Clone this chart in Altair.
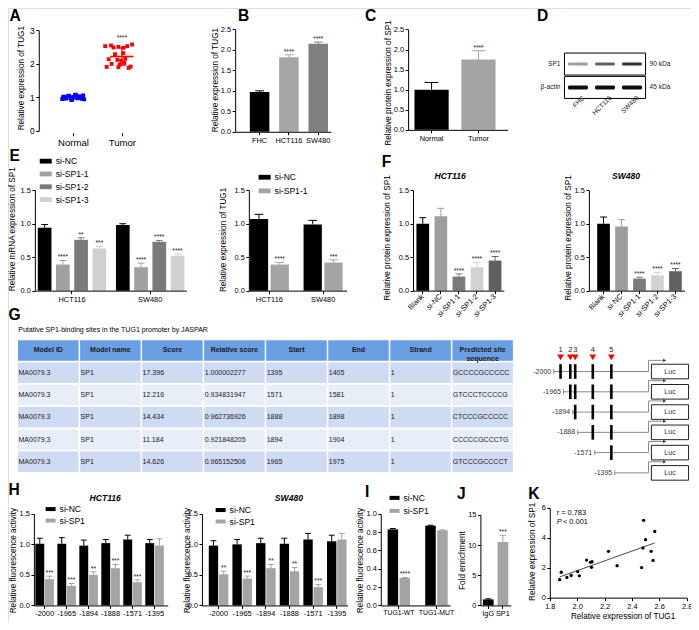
import altair as alt
import pandas as pd
import numpy as np

# ---------------- values ----------------
a_groups = ["Normal", "Tumor"]
a_normal = [0.95, 1.02, 0.98, 1.05, 0.93, 1.00, 1.07, 0.97, 1.03, 0.99,
            1.06, 0.94, 1.01, 0.96, 1.04, 0.92, 1.08, 0.98, 1.02, 0.95]
a_normal_jitter = [-0.22, -0.18, -0.13, -0.08, -0.04, 0.00, 0.04, 0.09, 0.13, 0.17,
                   0.21, 0.23, -0.20, -0.15, -0.10, -0.02, 0.06, 0.11, 0.15, 0.19]
a_tumor = [2.53, 2.49, 2.51, 2.48, 2.53, 2.58, 2.55, 2.29, 2.32, 2.14,
           2.12, 2.09, 2.15, 2.00, 1.98, 2.03, 1.91, 1.90, 1.88, 1.92]
a_tumor_jitter = [-0.34, -0.17, -0.07, 0.03, 0.11, 0.21, -0.22, -0.14, 0.03, -0.27,
                  -0.09, -0.01, 0.07, -0.21, -0.04, 0.05, -0.31, -0.07, 0.14, 0.18]
a_star = "****"

b_cells = ["FHC", "HCT116", "SW480"]
b_mean = [0.97, 1.82, 2.15]
b_err = [0.03, 0.06, 0.04]
b_stars = ["", "****", "****"]

c_groups = ["Normal", "Tumor"]
c_mean = [1.00, 1.75]
c_err = [0.18, 0.22]
c_stars = ["", "****"]

d_lanes = ["FHC", "HCT116", "SW480"]
d_blots = ["SP1", "β-actin"]
d_kda = ["90 kDa", "45 kDa"]
d_sp1_band = [0.38, 0.62, 0.80]
d_actin_band = [0.95, 0.95, 0.95]

e_cells = ["HCT116", "SW480"]
e1_series = ["si-NC", "si-SP1-1", "si-SP1-2", "si-SP1-3"]
e1_mean = [[0.94, 0.98], [0.39, 0.35], [0.76, 0.73], [0.63, 0.52]]
e1_err = [[0.05, 0.02], [0.06, 0.06], [0.03, 0.02], [0.03, 0.03]]
e1_stars = [["", ""], ["****", "****"], ["**", "****"], ["***", "****"]]
e2_series = ["si-NC", "si-SP1-1"]
e2_mean = [[1.07, 0.99], [0.39, 0.42]]
e2_err = [[0.07, 0.06], [0.03, 0.04]]
e2_stars = [["", ""], ["****", "***"]]

f_groups = ["Blank", "si-NC", "si-SP1-1", "si-SP1-2", "si-SP1-3"]
f_hct_mean = [1.00, 1.11, 0.21, 0.35, 0.45]
f_hct_err = [0.09, 0.12, 0.04, 0.07, 0.06]
f_sw_mean = [1.00, 0.96, 0.18, 0.23, 0.29]
f_sw_err = [0.10, 0.10, 0.02, 0.04, 0.04]
f_stars = ["", "", "****", "****", "****"]

g_caption = "Putative SP1-binding sites in the TUG1 promoter by JASPAR"
g_headers = ["Model ID", "Model name", "Score", "Relative score", "Start", "End",
             "Strand", "Predicted site\nsequence"]
g_model_id = ["MA0079.3"] * 5
g_model_name = ["SP1"] * 5
g_score = ["17.396", "12.216", "14.434", "11.184", "14.626"]
g_rel_score = ["1.000002277", "0.934831947", "0.962736926", "0.921848205", "0.965152506"]
g_start = [1395, 1571, 1888, 1894, 1965]
g_end = [1405, 1581, 1898, 1904, 1975]
g_strand = [1] * 5
g_sequence = ["GCCCCGCCCCC", "GTCCCTCCCCG", "CTCCCGCCCCC", "CCCCCGCCCTG", "GTCCCGCCCCT"]

h_constructs = ["-2000", "-1965", "-1894", "-1888", "-1571", "-1395"]
h_series = ["si-NC", "si-SP1"]
h_hct_mean = [[1.01, 1.01, 0.98, 1.02, 1.08, 1.02], [0.43, 0.32, 0.50, 0.61, 0.38, 0.98]]
h_hct_err = [[0.09, 0.10, 0.09, 0.06, 0.07, 0.06], [0.05, 0.04, 0.05, 0.06, 0.04, 0.11]]
h_hct_stars = [[""] * 6, ["***", "***", "**", "***", "***", ""]]
h_sw_mean = [[0.98, 1.00, 1.02, 1.01, 1.08, 1.05], [0.51, 0.44, 0.61, 0.56, 0.30, 1.08]]
h_sw_err = [[0.08, 0.08, 0.08, 0.09, 0.10, 0.10], [0.05, 0.04, 0.06, 0.06, 0.04, 0.10]]
h_sw_stars = [[""] * 6, ["**", "***", "**", "**", "***", ""]]

i_groups = ["TUG1-WT", "TUG1-MUT"]
i_mean = [[0.83, 0.87], [0.30, 0.82]]
i_err = [[0.01, 0.005], [0.005, 0.005]]
i_stars = [["", ""], ["****", ""]]

j_groups = ["IgG", "SP1"]
j_mean = [1.0, 10.5]
j_err = [0.1, 1.1]
j_stars = ["", "***"]

k_tug1 = [1.872, 1.884, 1.925, 1.956, 2.004, 2.016, 2.069, 2.097, 2.109, 2.105,
          2.229, 2.292, 2.471, 2.481, 2.486, 2.500, 2.541, 2.555, 2.567]
k_sp1 = [1.20, 1.70, 1.35, 1.48, 1.75, 1.46, 2.51, 2.36, 2.40, 2.03,
         3.10, 2.14, 2.01, 3.32, 5.17, 3.88, 3.10, 2.49, 4.43]
k_r_text = "r = 0.783"
k_p_text = "< 0.001"

# ---------------- layout helpers ----------------
W, H = 683, 614
FONT = "Liberation Sans"


def X(v):
    return round(v * 683 / 699 - 0.5, 2)


def Y(v):
    return round(v * 614 / 630, 2)


def F(v):
    return round(v * 0.975, 2)


PAL2 = ["#000000", "#a4a4a4"]
PAL_B = ["#000000", "#a6a6a6", "#7f7f7f"]
PAL_E1 = ["#000000", "#a0a0a0", "#7a7a7a", "#d0d0d0"]
PAL_F = ["#000000", "#9d9d9d", "#7b7b7b", "#d2d2d2", "#606060"]


def axis_left(ax, values, fmt, size=7.6):
    return alt.Axis(orient="left", offset=-X(ax), values=values, format=fmt, title=None,
                    grid=False, domainColor="black", domainWidth=1, tickColor="black",
                    tickWidth=1, tickSize=3, labelColor="black", labelFont=FONT,
                    labelFontSize=F(size), labelPadding=1.5, labelOverlap=False,
                    labelFlush=False, minExtent=0, maxExtent=0, zindex=1)


def axis_bottom(ay, angle=0, size=7.6, **kw):
    d = dict(orient="bottom", offset=Y(ay) - H, title=None, grid=False, domainColor="black",
             domainWidth=1, tickColor="black", tickWidth=1, tickSize=3, labelColor="black",
             labelFont=FONT, labelFontSize=F(size), labelPadding=1.5, labelAngle=angle,
             labelOverlap=False, labelFlush=False, minExtent=0, maxExtent=0, zindex=1)
    d.update(kw)
    return alt.Axis(**d)


def band(a, b, n, c0, s, bw):
    pi = 1 - bw / s
    po = max(((b - a) / s - n + pi) / 2, 0)
    free = (b - a) - s * (n - pi)
    al = (c0 - bw / 2 - a) / free if free > 1e-6 else 0.5
    al = min(max(al, 0.0), 1.0)
    return alt.Scale(range=[X(a), X(b)], paddingInner=round(pi, 4),
                     paddingOuter=round(po, 4), align=round(al, 4))


def lin_y(dmax, y0, y1, dmin=0):
    return alt.Scale(domain=[dmin, dmax], range=[Y(y0), Y(y1)], nice=False, zero=False)


def txt(s, x, y, size=8.4, angle=None, align="center", baseline="middle",
        weight="normal", style="normal", color="black"):
    kw = dict(fontSize=F(size), align=align, baseline=baseline, fontWeight=weight,
              fontStyle=style, color=color, font=FONT)
    if angle is not None:
        kw["angle"] = angle
    return alt.Chart(pd.DataFrame({"t": [s]})).mark_text(**kw).encode(
        x=alt.value(X(x)), y=alt.value(Y(y)), text="t:N")


def leg(x, y, size=144, rowpad=4):
    return alt.Legend(orient="none", legendX=X(x), legendY=Y(y), title=None,
                      direction="vertical", symbolType="M-1,-0.4H1V0.4H-1Z",
                      symbolSize=size, symbolStrokeWidth=0, symbolOpacity=1,
                      labelFont=FONT, labelFontSize=F(8.8), labelColor="black",
                      labelOffset=4, rowPadding=rowpad, padding=0, labelLimit=300)


STAR = dict(fontSize=F(6.8), baseline="alphabetic", dy=-1.2, color="#222222", font=FONT)


def simple_bars(cats, vals, errs, stars, colors, xsc, ysc, yax, xax, cap=8):
    df = pd.DataFrame({"cat": cats, "val": vals, "err": errs, "star": stars, "col": colors})
    df["top"] = df["val"] + df["err"]
    base = alt.Chart(df)
    xe = alt.X("cat:N", sort=cats, scale=xsc, axis=xax)
    col = alt.Color("col:N", scale=None)
    bars = base.mark_bar(opacity=1).encode(
        x=xe, y=alt.Y("val:Q", scale=ysc, axis=yax, stack=None), color=col)
    rule = base.mark_rule(strokeWidth=1, opacity=1).encode(
        x=xe, y=alt.Y("val:Q", scale=ysc, axis=yax, stack=None), y2="top:Q", color=col)
    tick = base.mark_tick(size=F(cap), thickness=1, opacity=1).encode(
        x=xe, y=alt.Y("top:Q", scale=ysc, axis=yax, stack=None), color=col)
    st = base.mark_text(**STAR).encode(
        x=xe, y=alt.Y("top:Q", scale=ysc, axis=yax, stack=None), text="star:N")
    return alt.layer(bars, rule, tick, st)


def grouped_bars(groups, series, vals, errs, stars, colors, xsc, ysc, yax, xax,
                 opad, legend, cap=6):
    rows = []
    for i, s in enumerate(series):
        for j, g in enumerate(groups):
            rows.append({"g": g, "s": s, "val": vals[i][j], "err": errs[i][j],
                         "star": stars[i][j]})
    df = pd.DataFrame(rows)
    df["top"] = df["val"] + df["err"]
    base = alt.Chart(df)
    xe = alt.X("g:N", sort=groups, scale=xsc, axis=xax)
    xo = alt.XOffset("s:N", sort=series, scale=alt.Scale(paddingInner=opad, paddingOuter=0))
    cs = alt.Scale(domain=series, range=colors)
    ce = alt.Color("s:N", sort=series, scale=cs, legend=legend)
    bars = base.mark_bar(opacity=1).encode(
        x=xe, xOffset=xo, y=alt.Y("val:Q", scale=ysc, axis=yax, stack=None), color=ce)
    rule = base.mark_rule(strokeWidth=1, opacity=1).encode(
        x=xe, xOffset=xo, y=alt.Y("val:Q", scale=ysc, axis=yax, stack=None), y2="top:Q",
        color=ce)
    tick = base.mark_tick(size=F(cap), thickness=1, opacity=1).encode(
        x=xe, xOffset=xo, y=alt.Y("top:Q", scale=ysc, axis=yax, stack=None), color=ce)
    st = base.mark_text(**STAR).encode(
        x=xe, xOffset=xo, y=alt.Y("top:Q", scale=ysc, axis=yax, stack=None), text="star:N")
    return alt.layer(bars, rule, tick, st)


layers = []

# ---------------- A ----------------
a_df = pd.DataFrame({
    "grp": [a_groups[0]] * len(a_normal) + [a_groups[1]] * len(a_tumor),
    "gi": [0] * len(a_normal) + [1] * len(a_tumor),
    "val": a_normal + a_tumor,
    "jit": a_normal_jitter + a_tumor_jitter,
})
a_df["xp"] = a_df["gi"] + a_df["jit"]
a_xs = alt.Scale(domain=[0, 1], range=[X(67), X(117)], nice=False, zero=False)
a_ys = lin_y(3, 126, 23)
a_xax = axis_bottom(128, size=9.8, values=[0, 1], domain=False,
                    labelExpr="datum.value == 0 ? 'Normal' : 'Tumor'")
a_yax = axis_left(32, [0, 1, 2, 3], "d", size=8.6)
a_cs = alt.Scale(domain=a_groups, range=["#0000ff", "#ff0000"])
a_cn = alt.Color("grp:N", scale=a_cs, legend=None)
a_pts = alt.Chart(a_df).mark_square(size=15, opacity=1).encode(
    x=alt.X("xp:Q", scale=a_xs, axis=a_xax),
    y=alt.Y("val:Q", scale=a_ys, axis=a_yax), color=a_cn)
a_stat = a_df.groupby(["grp", "gi"])["val"].agg(["mean", "std"]).reset_index()
a_stat["lo"] = a_stat["mean"] - a_stat["std"]
a_stat["hi"] = a_stat["mean"] + a_stat["std"]
a_sb = alt.Chart(a_stat)
a_xn = alt.X("gi:Q", scale=a_xs, axis=a_xax)
a_mean = a_sb.mark_tick(orient="horizontal", size=F(24), thickness=1.6, opacity=1).encode(
    x=a_xn, y=alt.Y("mean:Q", scale=a_ys, axis=a_yax), color=a_cn)
a_sd = a_sb.mark_rule(strokeWidth=1.2, opacity=1).encode(
    x=a_xn, y=alt.Y("lo:Q", scale=a_ys, axis=a_yax), y2="hi:Q", color=a_cn)
a_cap1 = a_sb.mark_tick(orient="horizontal", size=F(9), thickness=1.2, opacity=1).encode(
    x=a_xn, y=alt.Y("lo:Q", scale=a_ys, axis=a_yax), color=a_cn)
a_cap2 = a_sb.mark_tick(orient="horizontal", size=F(9), thickness=1.2, opacity=1).encode(
    x=a_xn, y=alt.Y("hi:Q", scale=a_ys, axis=a_yax), color=a_cn)
a_sdf = pd.DataFrame({"gi": [1], "t": [a_star], "v": [max(a_tumor)]})
a_st = alt.Chart(a_sdf).mark_text(fontSize=F(6.8), baseline="alphabetic", dy=-4,
                                  color="#222222", font=FONT).encode(
    x=a_xn, y=alt.Y("v:Q", scale=a_ys, axis=a_yax), text="t:N")
layers.append(alt.layer(a_pts, a_mean, a_sd, a_cap1, a_cap2, a_st))

# ---------------- B ----------------
layers.append(simple_bars(
    b_cells, b_mean, b_err, b_stars, PAL_B,
    band(233, 331, 3, 258, 30, 20), lin_y(2.5, 127, 22),
    axis_left(233, [0, 0.5, 1, 1.5, 2, 2.5], ".1f"), axis_bottom(127), cap=9))

# ---------------- C ----------------
layers.append(simple_bars(
    c_groups, c_mean, c_err, c_stars, PAL2,
    band(410, 512, 2, 434, 48, 35), lin_y(2.5, 125, 22),
    axis_left(410, [0, 0.5, 1, 1.5, 2, 2.5], ".1f"), axis_bottom(125), cap=14))

# ---------------- D (blot) ----------------
d_xs = alt.Scale(domain=[0, 3], range=[X(570), X(653)], nice=False, zero=False)
d_ys = alt.Scale(domain=[0, 2], range=[Y(45.5), Y(93.5)], nice=False, zero=False)
d_box = pd.DataFrame({"blot": d_blots, "r": [0, 1], "kda": d_kda})
d_box["x0"] = 0
d_box["x1"] = len(d_lanes)
d_box["y0"] = d_box["r"] + 0.03
d_box["y1"] = d_box["r"] + 0.97
d_box["yc"] = d_box["r"] + 0.5
d_rows = []
for r, (intens, half) in enumerate([(d_sp1_band, 0.065), (d_actin_band, 0.085)]):
    for i, v in enumerate(intens):
        d_rows.append({"lane": d_lanes[i], "i": i, "r": r, "inten": v,
                       "x0": i + 0.13, "x1": i + 0.87,
                       "y0": r + 0.5 - half, "y1": r + 0.5 + half})
d_bands = pd.DataFrame(d_rows)
d_lab = pd.DataFrame({"lane": d_lanes, "xc": [i + 0.5 for i in range(len(d_lanes))]})
d_l1 = alt.Chart(d_box).mark_rect(fill="white", stroke="black", strokeWidth=1).encode(
    x=alt.X("x0:Q", scale=d_xs, axis=None), x2="x1:Q",
    y=alt.Y("y0:Q", scale=d_ys, axis=None), y2="y1:Q")
d_l2 = alt.Chart(d_bands).mark_rect(fill="black", cornerRadius=1.5).encode(
    x=alt.X("x0:Q", scale=d_xs, axis=None), x2="x1:Q",
    y=alt.Y("y0:Q", scale=d_ys, axis=None), y2="y1:Q",
    opacity=alt.Opacity("inten:Q", scale=None, legend=None))
d_l3 = alt.Chart(d_box).mark_text(align="right", fontSize=F(6.8), font=FONT, color="#222").encode(
    x=alt.value(X(566)), y=alt.Y("yc:Q", scale=d_ys, axis=None), text="blot:N")
d_l4 = alt.Chart(d_box).mark_text(align="left", fontSize=F(6.8), font=FONT, color="#222").encode(
    x=alt.value(X(657)), y=alt.Y("yc:Q", scale=d_ys, axis=None), text="kda:N")
d_l5 = alt.Chart(d_lab).mark_text(align="right", baseline="middle", angle=315, dx=8,
                                  fontSize=F(6.8), font=FONT, color="#222").encode(
    x=alt.X("xc:Q", scale=d_xs, axis=None), y=alt.value(Y(97)), text="lane:N")
layers.append(alt.layer(d_l1, d_l2, d_l3, d_l4, d_l5))

# ---------------- E ----------------
layers.append(grouped_bars(
    e_cells, e1_series, e1_mean, e1_err, e1_stars, PAL_E1,
    band(28, 183, 2, 66, 80, 70), lin_y(1.5, 290, 187),
    axis_left(28, [0, 0.5, 1, 1.5], ".1f"), axis_bottom(290), 0.25,
    leg(33, 151, 144, 1.8), cap=7))
layers.append(grouped_bars(
    e_cells, e2_series, e2_mean, e2_err, e2_stars, PAL2,
    band(247, 347, 2, 268, 55, 40), lin_y(1.5, 290, 187),
    axis_left(247, [0, 0.5, 1, 1.5], ".1f"), axis_bottom(290), 0.12,
    leg(257, 167.5, 144, 2.6), cap=9))

# ---------------- F ----------------
f_ax = dict(labelAlign="right", labelBaseline="middle")
layers.append(simple_bars(
    f_groups, f_hct_mean, f_hct_err, f_stars, PAL_F,
    band(415, 508, 5, 425, 18.5, 13), lin_y(1.5, 290, 187),
    axis_left(415, [0, 0.5, 1, 1.5], ".1f"), axis_bottom(290, angle=-45, **f_ax), cap=7))
layers.append(simple_bars(
    f_groups, f_sw_mean, f_sw_err, f_stars, PAL_F,
    band(595, 693, 5, 610, 18.4, 13), lin_y(1.5, 290, 187),
    axis_left(595, [0, 0.5, 1, 1.5], ".1f"), axis_bottom(290, angle=-45, **f_ax), cap=7))

# ---------------- G (table) ----------------
g_cols = [g_model_id, g_model_name, g_score, g_rel_score, g_start, g_end, g_strand, g_sequence]
g_cells = []
for c, h in enumerate(g_headers):
    g_cells.append({"c": c, "r": 0, "kind": "header", "t": h})
    for r in range(5):
        g_cells.append({"c": c, "r": r + 1, "kind": "odd" if r % 2 == 0 else "even",
                        "t": str(g_cols[c][r])})
g_df = pd.DataFrame(g_cells)
g_df["x0"] = g_df["c"] + 0.012
g_df["x1"] = g_df["c"] + 0.988
g_df["y0"] = g_df["r"] + 0.035
g_df["y1"] = g_df["r"] + 0.965
g_df["xc"] = g_df["c"] + 0.5
g_df["xl"] = g_df["c"] + 0.02
g_df["yc"] = g_df["r"] + 0.5
g_xs = alt.Scale(domain=[0, 8], range=[X(10), X(518)], nice=False, zero=False)
g_ys = alt.Scale(domain=[0, 6], range=[Y(340), Y(477)], nice=False, zero=False)
g_rect = alt.Chart(g_df).mark_rect(opacity=1).encode(
    x=alt.X("x0:Q", scale=g_xs, axis=None), x2="x1:Q",
    y=alt.Y("y0:Q", scale=g_ys, axis=None), y2="y1:Q",
    color=alt.Color("kind:N", scale=alt.Scale(domain=["header", "odd", "even"],
                                              range=["#6a9fe6", "#cfdbf2", "#e8eef8"]),
                    legend=None))
g_head = alt.Chart(g_df).transform_filter("datum.kind == 'header'").mark_text(
    fontSize=F(7.2), fontWeight="bold", font=FONT, color="#1a1a1a", lineBreak="\n",
    lineHeight=F(9)).encode(
    x=alt.X("xc:Q", scale=g_xs, axis=None), y=alt.Y("yc:Q", scale=g_ys, axis=None), text="t:N")
g_body = alt.Chart(g_df).transform_filter("datum.kind != 'header'").mark_text(
    fontSize=F(7.2), font=FONT, color="#1a1a1a", align="left").encode(
    x=alt.X("xl:Q", scale=g_xs, axis=None), y=alt.Y("yc:Q", scale=g_ys, axis=None), text="t:N")
layers.append(alt.layer(g_rect, g_head, g_body))
layers.append(txt(g_caption, 11, 330, size=7.2, align="left"))

# ---------------- G (promoter constructs) ----------------
dg_starts = [int(c) for c in h_constructs]
dg_sites = sorted([-(s + e) / 2 for s, e in zip(g_start, g_end)])
dg_xs = alt.Scale(domain=[-2000, -1970, -1965, -1899, -1894, -1893, -1888, -1576, -1571,
                          -1400, -1395, 0],
                  range=[X(v) for v in [559, 566, 569, 576, 578.5, 581, 583.5, 599, 601,
                                        618, 621.5, 656]],
                  nice=False, zero=False)
dg_ys = alt.Scale(domain=[0, 5], range=[Y(373), Y(477)], nice=False, zero=False)
dg_con = pd.DataFrame({"start": dg_starts, "lab": h_constructs, "row": list(range(len(dg_starts)))})
dg_con["end"] = 0
dg_con["up"] = dg_con["row"] - 0.55
dg_con["b0"] = dg_con["row"] - 0.36
dg_con["b1"] = dg_con["row"] + 0.36
dg_pairs = pd.DataFrame([{"row": r, "pos": p} for r, s in enumerate(dg_starts)
                         for p in dg_sites if p > s])
dg_top = pd.DataFrame({"pos": dg_sites, "n": [str(i + 1) for i in range(len(dg_sites))]})
GR = "#8a8a8a"
dgx = alt.X("start:Q", scale=dg_xs, axis=None)
dgy = alt.Y("row:Q", scale=dg_ys, axis=None)
dg_line = alt.Chart(dg_con).mark_rule(color=GR, strokeWidth=1).encode(
    x=dgx, x2="end:Q", y=dgy)
dg_tk = alt.Chart(dg_con).mark_tick(orient="vertical", size=F(5), thickness=1, color=GR,
                                    opacity=1).encode(x=dgx, y=dgy)
dg_v = alt.Chart(dg_con).mark_rule(color=GR, strokeWidth=1).encode(
    x=alt.value(X(656)), y=dgy, y2="up:Q")
dg_h = alt.Chart(dg_con).mark_rule(color=GR, strokeWidth=1).encode(
    x=alt.value(X(656)), x2=alt.value(X(671)), y=alt.Y("up:Q", scale=dg_ys, axis=None))
dg_ah = alt.Chart(dg_con).mark_point(shape="triangle-right", filled=True, size=12,
                                     color="#333", opacity=1).encode(
    x=alt.value(X(672.5)), y=alt.Y("up:Q", scale=dg_ys, axis=None))
dg_box = alt.Chart(dg_con).mark_rect(fill="white", stroke="#222", strokeWidth=1).encode(
    x=alt.value(X(659)), x2=alt.value(X(697)),
    y=alt.Y("b0:Q", scale=dg_ys, axis=None), y2="b1:Q")
dg_luc = alt.Chart(dg_con).mark_text(fontSize=F(7.2), font=FONT, color="#333").encode(
    x=alt.value(X(678)), y=dgy, text=alt.value("Luc"))
dg_lab = alt.Chart(dg_con).mark_text(fontSize=F(7.2), font=FONT, color="#333",
                                     align="right", dx=-2.5).encode(x=dgx, y=dgy, text="lab:N")
dg_site = alt.Chart(dg_pairs).mark_tick(orient="vertical", size=F(15), thickness=2.6,
                                        color="black", opacity=1).encode(
    x=alt.X("pos:Q", scale=dg_xs, axis=None), y=alt.Y("row:Q", scale=dg_ys, axis=None))
dg_tri = alt.Chart(dg_top).mark_point(shape="triangle-down", filled=True, size=45,
                                      color="#ff0000", opacity=1).encode(
    x=alt.X("pos:Q", scale=dg_xs, axis=None), y=alt.value(Y(358.5)))
dg_num = alt.Chart(dg_top).mark_text(fontSize=F(7.6), font=FONT, color="#222").encode(
    x=alt.X("pos:Q", scale=dg_xs, axis=None), y=alt.value(Y(350.5)), text="n:N")
layers.append(alt.layer(dg_line, dg_tk, dg_v, dg_h, dg_ah, dg_box, dg_luc, dg_lab,
                        dg_site, dg_tri, dg_num))

# ---------------- H ----------------
layers.append(grouped_bars(
    h_constructs, h_series, h_hct_mean, h_hct_err, h_hct_stars, PAL2,
    band(27, 164, 6, 38, 22.5, 19), lin_y(1.5, 613, 519),
    axis_left(27, [0, 0.5, 1, 1.5], ".1f"), axis_bottom(613), 0.08,
    leg(39, 509, 100, 1.5), cap=6))
layers.append(grouped_bars(
    h_constructs, h_series, h_sw_mean, h_sw_err, h_sw_stars, PAL2,
    band(199, 348, 6, 216, 24.2, 20), lin_y(1.5, 613, 519),
    axis_left(199, [0, 0.5, 1, 1.5], ".1f"), axis_bottom(613), 0.08,
    leg(213, 510, 100, 1.5), cap=6))

# ---------------- I ----------------
layers.append(grouped_bars(
    i_groups, h_series, i_mean, i_err, i_stars, PAL2,
    band(382, 453, 2, 400.5, 38.5, 23), lin_y(1.0, 613, 519),
    axis_left(382, [0, 0.2, 0.4, 0.6, 0.8, 1.0], ".1f"), axis_bottom(613, size=7.0), 0.12,
    leg(391, 497.5, 100, 3), cap=6))

# ---------------- J ----------------
layers.append(simple_bars(
    j_groups, j_mean, j_err, j_stars, PAL2,
    band(484, 515, 2, 492, 15, 11), lin_y(15, 613, 520),
    axis_left(484, [0, 5, 10, 15], "d"), axis_bottom(613), cap=6))

# ---------------- K ----------------
k_df = pd.DataFrame({"tug1": k_tug1, "sp1": k_sp1})
k_xs = alt.Scale(domain=[1.8, 2.8], range=[X(555), X(695)], nice=False, zero=False)
k_ys = alt.Scale(domain=[0, 6], range=[Y(605), Y(513)], nice=False, zero=False)
k_xax = axis_bottom(605, values=[1.8, 2.0, 2.2, 2.4, 2.6, 2.8], format=".1f")
k_yax = axis_left(555, [0, 2, 4, 6], "d")
k_pts = alt.Chart(k_df).mark_circle(size=11, color="black", opacity=1).encode(
    x=alt.X("tug1:Q", scale=k_xs, axis=k_xax), y=alt.Y("sp1:Q", scale=k_ys, axis=k_yax))
k_reg = alt.Chart(k_df).transform_regression(
    "tug1", "sp1", extent=[min(k_tug1), max(k_tug1)]).mark_line(
    color="#333333", strokeWidth=0.9).encode(
    x=alt.X("tug1:Q", scale=k_xs, axis=k_xax), y=alt.Y("sp1:Q", scale=k_ys, axis=k_yax))
layers.append(alt.layer(k_pts, k_reg))
layers.append(txt(k_r_text, 562, 518, size=7.6, align="left"))
layers.append(txt("P", 562, 527, size=7.6, align="left", style="italic"))
layers.append(txt(k_p_text, 568.5, 527, size=7.6, align="left"))

# ---------------- titles and panel letters ----------------
for s, x, y in [("Relative expression of TUG1", 15, 72),
                ("Relative expression of TUG1", 213, 74),
                ("Relative protein expression of SP1", 390, 77),
                ("Relative mRNA expression of SP1", 6, 227),
                ("Relative expression of TUG1", 222, 238),
                ("Relative protein expression of SP1", 389, 236),
                ("Relative protein expression of SP1", 575, 236),
                ("Relative fluorescence activity", 7, 567),
                ("Relative fluorescence activity", 185, 567),
                ("Relative fluorescence activity", 362, 567),
                ("Fold enrichment", 466, 567),
                ("Relative expression of SP1", 538, 558)]:
    layers.append(txt(s, x, y, size=8.4, angle=270))
layers.append(txt("Relative expression of TUG1", 630, 625, size=8.4))
for s, x, y in [("HCT116", 453, 172), ("SW480", 633, 172), ("HCT116", 100, 503),
                ("SW480", 288, 503)]:
    layers.append(txt(s, x, y, size=8.8, weight="bold", style="italic"))
for s, x, y in [("A", 2, 1), ("B", 236, 1), ("C", 366, 1), ("D", 542, 1), ("E", 2, 145),
                ("F", 383, 151), ("G", 1, 308), ("H", 1, 487), ("I", 366, 489),
                ("J", 460, 491), ("K", 533, 491)]:
    layers.append(txt(s, x, y, size=16, align="left", baseline="top", weight="bold"))

chart = alt.layer(*layers).properties(
    width=W, height=H, padding=0, autosize=alt.AutoSizeParams(type="none")
).resolve_scale(
    x="independent", y="independent", color="independent", xOffset="independent",
    opacity="independent"
).resolve_legend(color="independent").configure_view(stroke=None).configure(font=FONT)

chart.save("out.html", embed_options={"renderer": "svg", "actions": False})
